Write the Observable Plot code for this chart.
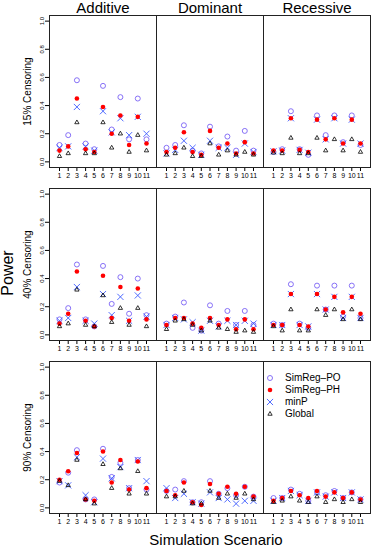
<!DOCTYPE html>
<html><head><meta charset="utf-8">
<script src="https://cdn.jsdelivr.net/npm/d3@7"></script>
<script src="https://cdn.jsdelivr.net/npm/@observablehq/plot@0.6"></script>
<style>
body{margin:0;background:#fff;font-family:"Liberation Sans",Arial,Helvetica,sans-serif;}
#chart{position:relative;width:371px;height:546px;overflow:hidden;background:#fff}
#chart svg.plot{position:absolute;left:0;top:0}
.ov{position:absolute;white-space:nowrap;color:#000;line-height:1}
</style></head><body><div id="chart"></div>
<script>
const models = ["Additive", "Dominant", "Recessive"];
const censorings = ["15% Censoring", "40% Censoring", "90% Censoring"];
const scenarios = [1, 2, 3, 4, 5, 6, 7, 8, 9, 10, 11];
const yTicks = [0, 0.2, 0.4, 0.6, 0.8, 1.0];
const seriesKeys = ["PO", "minP", "PH", "Global"];
const legendKeys = ["PO", "PH", "minP", "Global"];
const seriesLabels = {PO: "SimReg\u2013PO", PH: "SimReg\u2013PH", minP: "minP", Global: "Global"};

// 15% censoring
const add15_PO = [0.12, 0.19, 0.58, 0.13, 0.09, 0.54, 0.23, 0.46, 0.16, 0.45, 0.16];
const add15_PH = [0.08, 0.11, 0.45, 0.09, 0.07, 0.39, 0.20, 0.33, 0.12, 0.32, 0.13];
const add15_minP = [0.10, 0.11, 0.39, 0.11, 0.08, 0.36, 0.21, 0.31, 0.19, 0.32, 0.20];
const add15_Global = [0.04, 0.06, 0.28, 0.06, 0.06, 0.28, 0.10, 0.20, 0.07, 0.19, 0.08];
const dom15_PO = [0.10, 0.12, 0.26, 0.08, 0.06, 0.25, 0.11, 0.18, 0.08, 0.22, 0.08];
const dom15_PH = [0.07, 0.10, 0.21, 0.07, 0.05, 0.22, 0.10, 0.13, 0.06, 0.14, 0.06];
const dom15_minP = [0.06, 0.085, 0.15, 0.10, 0.05, 0.15, 0.10, 0.10, 0.05, 0.13, 0.07];
const dom15_Global = [0.05, 0.06, 0.10, 0.04, 0.04, 0.13, 0.05, 0.08, 0.05, 0.07, 0.05];
const rec15_PO = [0.07, 0.09, 0.36, 0.09, 0.05, 0.33, 0.19, 0.33, 0.14, 0.33, 0.12];
const rec15_PH = [0.08, 0.08, 0.31, 0.085, 0.07, 0.30, 0.16, 0.31, 0.13, 0.30, 0.13];
const rec15_minP = [0.075, 0.08, 0.31, 0.085, 0.065, 0.30, 0.16, 0.31, 0.13, 0.30, 0.13];
const rec15_Global = [0.065, 0.06, 0.17, 0.06, 0.06, 0.17, 0.08, 0.16, 0.08, 0.16, 0.07];

// 40% censoring
const add40_PO = [0.11, 0.19, 0.50, 0.11, 0.06, 0.49, 0.22, 0.41, 0.15, 0.40, 0.14];
const add40_PH = [0.08, 0.15, 0.45, 0.10, 0.06, 0.42, 0.12, 0.34, 0.10, 0.33, 0.11];
const add40_minP = [0.10, 0.12, 0.34, 0.10, 0.08, 0.29, 0.14, 0.27, 0.10, 0.28, 0.13];
const add40_Global = [0.06, 0.08, 0.32, 0.07, 0.06, 0.28, 0.09, 0.19, 0.07, 0.19, 0.06];
const dom40_PO = [0.08, 0.13, 0.23, 0.05, 0.03, 0.21, 0.08, 0.17, 0.07, 0.17, 0.07];
const dom40_PH = [0.07, 0.12, 0.12, 0.08, 0.05, 0.12, 0.07, 0.11, 0.04, 0.11, 0.04];
const dom40_minP = [0.07, 0.12, 0.11, 0.09, 0.03, 0.10, 0.06, 0.10, 0.07, 0.10, 0.08];
const dom40_Global = [0.04, 0.10, 0.11, 0.07, 0.03, 0.10, 0.05, 0.04, 0.02, 0.03, 0.02];
const rec40_PO = [0.08, 0.07, 0.36, 0.08, 0.05, 0.35, 0.18, 0.35, 0.13, 0.35, 0.12];
const rec40_PH = [0.07, 0.07, 0.29, 0.07, 0.06, 0.29, 0.18, 0.27, 0.16, 0.27, 0.15];
const rec40_minP = [0.07, 0.07, 0.29, 0.07, 0.06, 0.29, 0.18, 0.27, 0.12, 0.27, 0.12];
const rec40_Global = [0.06, 0.03, 0.18, 0.03, 0.03, 0.18, 0.14, 0.18, 0.11, 0.18, 0.11];

// 90% censoring
const add90_PO = [0.18, 0.25, 0.41, 0.06, 0.06, 0.42, 0.22, 0.32, 0.14, 0.34, 0.13];
const add90_PH = [0.20, 0.26, 0.39, 0.06, 0.05, 0.40, 0.18, 0.34, 0.13, 0.33, 0.14];
const add90_minP = [0.19, 0.16, 0.36, 0.09, 0.04, 0.35, 0.21, 0.29, 0.14, 0.34, 0.19];
const add90_Global = [0.19, 0.16, 0.34, 0.06, 0.03, 0.31, 0.14, 0.28, 0.10, 0.26, 0.10];
const dom90_PO = [0.12, 0.13, 0.19, 0.04, 0.04, 0.19, 0.10, 0.14, 0.09, 0.15, 0.08];
const dom90_PH = [0.12, 0.09, 0.18, 0.04, 0.02, 0.17, 0.10, 0.15, 0.10, 0.15, 0.08];
const dom90_minP = [0.14, 0.07, 0.10, 0.04, 0.03, 0.11, 0.07, 0.06, 0.03, 0.05, 0.05];
const dom90_Global = [0.08, 0.08, 0.12, 0.03, 0.03, 0.12, 0.07, 0.10, 0.07, 0.10, 0.06];
const rec90_PO = [0.07, 0.07, 0.13, 0.10, 0.05, 0.11, 0.09, 0.12, 0.07, 0.11, 0.06];
const rec90_PH = [0.05, 0.07, 0.12, 0.09, 0.07, 0.12, 0.08, 0.11, 0.07, 0.11, 0.06];
const rec90_minP = [0.05, 0.07, 0.12, 0.09, 0.05, 0.11, 0.08, 0.11, 0.07, 0.11, 0.06];
const rec90_Global = [0.04, 0.05, 0.08, 0.05, 0.04, 0.08, 0.04, 0.06, 0.04, 0.06, 0.04];

const panels = [
  {model: "Additive", cens: "15% Censoring", PO: add15_PO, PH: add15_PH, minP: add15_minP, Global: add15_Global},
  {model: "Dominant", cens: "15% Censoring", PO: dom15_PO, PH: dom15_PH, minP: dom15_minP, Global: dom15_Global},
  {model: "Recessive", cens: "15% Censoring", PO: rec15_PO, PH: rec15_PH, minP: rec15_minP, Global: rec15_Global},
  {model: "Additive", cens: "40% Censoring", PO: add40_PO, PH: add40_PH, minP: add40_minP, Global: add40_Global},
  {model: "Dominant", cens: "40% Censoring", PO: dom40_PO, PH: dom40_PH, minP: dom40_minP, Global: dom40_Global},
  {model: "Recessive", cens: "40% Censoring", PO: rec40_PO, PH: rec40_PH, minP: rec40_minP, Global: rec40_Global},
  {model: "Additive", cens: "90% Censoring", PO: add90_PO, PH: add90_PH, minP: add90_minP, Global: add90_Global},
  {model: "Dominant", cens: "90% Censoring", PO: dom90_PO, PH: dom90_PH, minP: dom90_minP, Global: dom90_Global},
  {model: "Recessive", cens: "90% Censoring", PO: rec90_PO, PH: rec90_PH, minP: rec90_minP, Global: rec90_Global}
];

const styles = {
  PO: {symbol: "circle", stroke: "#7b62f5", fill: "none", r: 2.5, strokeWidth: 0.9},
  PH: {symbol: "circle", fill: "#ff0000", stroke: "none", r: 2.3},
  minP: {symbol: "times", stroke: "#3d5bff", fill: "none", r: 2.9, strokeWidth: 0.9},
  Global: {symbol: "triangle", stroke: "#000", fill: "none", r: 1.6, strokeWidth: 0.8}
};

const rows = [];
for (const p of panels) {
  for (const s of seriesKeys) {
    p[s].forEach((v, i) => rows.push({scenario: scenarios[i], power: v, model: p.model, censoring: p.cens, series: s}));
  }
}

const font = "'Liberation Sans', Arial, Helvetica, sans-serif";

const plot = Plot.plot({
  width: 371,
  height: 546,
  marginLeft: 49,
  marginRight: 1,
  marginTop: 15,
  marginBottom: 32,
  style: {fontFamily: font, background: "white", color: "black", overflow: "visible"},
  fx: {domain: models, padding: 0, label: null},
  fy: {domain: censorings, paddingInner: 0.121, paddingOuter: 0, label: null},
  x: {domain: [-0.15, 12.15], label: null},
  y: {domain: [-0.04, 1.04], label: null},
  marks: [
    Plot.axisFx({anchor: "top", label: null, tickSize: 0, tickPadding: 3, fontSize: 15}),
    Plot.axisFy({anchor: "left", label: null, tickSize: 0, tickPadding: 19, tickRotate: -90, fontSize: 10}),
    Plot.axisY({ticks: yTicks, tickFormat: d3.format(".1f"), tickSize: 4, tickPadding: 2, fontSize: 6, tickRotate: -90, label: null}),
    Plot.axisX({ticks: scenarios, tickFormat: (d) => String(d), tickSize: 4, tickPadding: 2, fontSize: 7, label: null, facetAnchor: null}),
    ...seriesKeys.map((s) => Plot.dot(rows.filter((d) => d.series === s), {
      x: "scenario", y: "power", fx: "model", fy: "censoring", ...styles[s]
    })),
    Plot.frame({stroke: "#222", strokeWidth: 1})
  ]
});

const chart = document.getElementById("chart");
chart.appendChild(plot);

function addText(txt, css) {
  const d = document.createElement("div");
  d.className = "ov";
  d.textContent = txt;
  Object.assign(d.style, css);
  chart.appendChild(d);
  return d;
}

// Overall axis titles
addText("Power", {left: "8px", top: "273px", fontSize: "16px", transform: "translate(-50%,-50%) rotate(-90deg)"});
addText("Simulation Scenario", {left: "216px", top: "539px", fontSize: "15px", transform: "translate(-50%,-50%)"});

// Legend
legendKeys.forEach((k, i) => {
  const cy = 377.5 + i * 12;
  const st = styles[k];
  const svg = d3.create("svg").attr("width", 12).attr("height", 12)
    .style("position", "absolute").style("left", (270 - 6) + "px").style("top", (cy - 6) + "px");
  const area = Math.PI * st.r * st.r;
  const sym = {circle: d3.symbolCircle, times: d3.symbolTimes, triangle: d3.symbolTriangle}[st.symbol];
  svg.append("path").attr("transform", "translate(6,6)")
    .attr("d", d3.symbol(sym, area)())
    .attr("fill", st.fill).attr("stroke", st.stroke).attr("stroke-width", st.strokeWidth || 0);
  chart.appendChild(svg.node());
  addText(seriesLabels[k], {left: "285px", top: cy + "px", fontSize: "10px", transform: "translateY(-50%)"});
});
</script>
</body></html>
